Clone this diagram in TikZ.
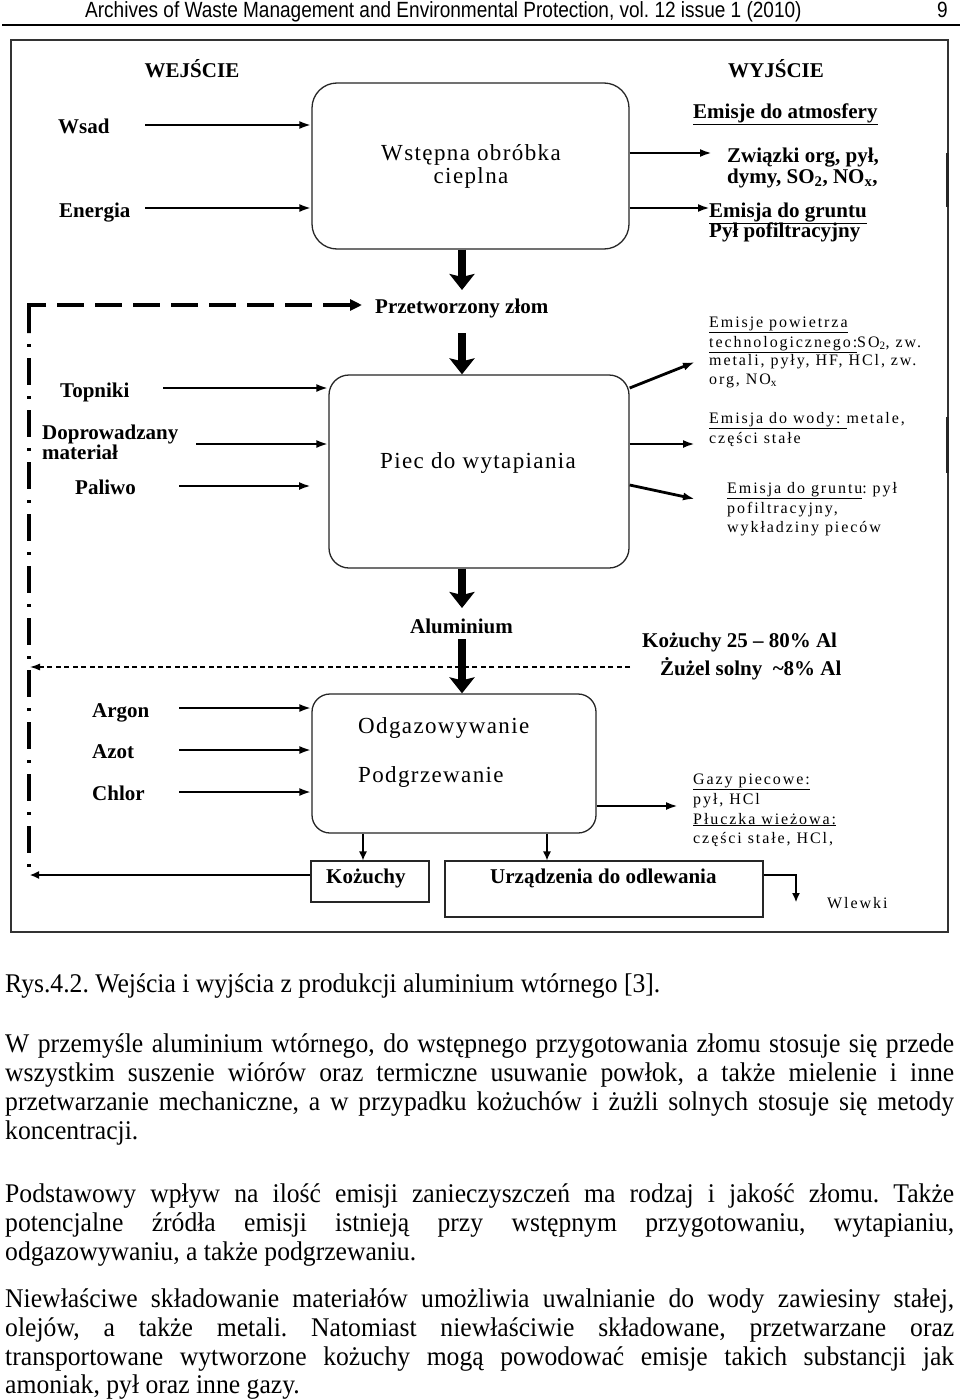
\documentclass[tikz,border=0pt]{standalone}
\usepackage{fontspec}
\setmainfont{Liberation Serif}
\newfontfamily\hdrf{Liberation Sans}[FakeStretch=0.865]
\newfontfamily\bodyf{Liberation Serif}[FakeStretch=0.95]
\newfontfamily\lspf{Liberation Serif}[LetterSpace=12]
\newfontfamily\boxf{Liberation Serif}[LetterSpace=6]
\usetikzlibrary{arrows.meta}
\newcommand\jline[1]{\makebox[949pt][s]{#1}}
\frenchspacing
\begin{document}
\begin{tikzpicture}[x=1pt,y=-1pt,
 lab/.style={inner sep=0pt, anchor=base west, font=\frenchspacing\bfseries\fontsize{21pt}{23pt}\selectfont},
 labc/.style={lab, anchor=base},
 sm/.style={inner sep=0pt, anchor=base west, font=\frenchspacing\lspf\fontsize{16pt}{18pt}\selectfont},
 boxtxt/.style={inner sep=0pt, anchor=base west, font=\boxf\fontsize{23pt}{25pt}\selectfont},
 boxtxtc/.style={boxtxt, anchor=base},
 body/.style={inner sep=0pt, anchor=base west, font=\bodyf\frenchspacing\fontsize{27pt}{29.6pt}\selectfont},
 hdr/.style={inner sep=0pt, anchor=base west, font=\hdrf\frenchspacing\fontsize{22pt}{24pt}\selectfont},
 rbox/.style={draw=black!85, line width=1.3pt, inner sep=0pt},
 sbox/.style={draw=black!85, line width=1.2pt, inner sep=0pt},
 inarr/.style={line width=2.8pt, -{Latex[length=12pt,width=8pt]}},
 bigarr/.style={line width=8pt, -{Stealth[length=16pt,width=25pt,inset=3pt]}},
 thinarr/.style={line width=1.2pt, -{Latex[length=9pt,width=8pt]}},
 thickdash/.style={line width=4pt, dash pattern=on 27pt off 11pt, dash phase=27pt, -{Triangle[length=12pt,width=11pt]}},
 dashdot/.style={line width=4pt, dash pattern=on 3pt off 11pt on 27pt off 11pt, dash phase=41pt},
 thindash/.style={line width=1.2pt, dash pattern=on 5pt off 3.5pt, -{Latex[length=10pt,width=7pt]}}
]
\fill[white] (0,0) rectangle (960,1400);
\useasboundingbox (0,0) rectangle (960,1400);

% header
\node[hdr] (hd) at (85,17.5) {Archives of Waste Management and Environmental Protection, vol. 12 issue 1 (2010)};
\node[hdr, anchor=base east] (pg) at (948,17.5) {9};
\draw[line width=1.7pt] (2,25) -- (960,25);

% frame
\draw[line width=1.3pt, black!80] (11,40) rectangle (948,932);
\draw[line width=3pt, black!85] (947,153) -- (947,207);
\draw[line width=3pt, black!85] (947,417) -- (947,473);

% boxes
\node[rbox, rounded corners=25pt, minimum width=317pt, minimum height=166pt] (b1) at (470.5,166) {};
\node[rbox, rounded corners=20pt, minimum width=300pt, minimum height=193pt] (b2) at (479,471.5) {};
\node[rbox, rounded corners=18pt, minimum width=284pt, minimum height=139pt] (b3) at (454,763.5) {};
\node[sbox, minimum width=118pt, minimum height=41pt] (kbox) at (370,881.5) {};
\node[sbox, minimum width=318pt, minimum height=56pt] (ubox) at (604,889) {};

% box texts
\node[boxtxtc] (b1t1) at (471,160) {Wstępna obróbka};
\node[boxtxtc] (b1t2) at (471,183) {cieplna};
\node[boxtxt] (b2t) at (380,468) {Piec do wytapiania};
\node[boxtxt] (b3t1) at (358,733) {Odgazowywanie};
\node[boxtxt] (b3t2) at (358,782) {Podgrzewanie};
\node[lab] (kt) at (326,883) {Kożuchy};
\node[lab] (ut) at (490,883) {Urządzenia do odlewania};

% bold labels
\node[labc] (wej) at (192,77) {WEJŚCIE};
\node[labc] (wyj) at (776,77) {WYJŚCIE};
\node[lab] (wsad) at (58,133) {Wsad};
\node[lab] (energia) at (59,217) {Energia};
\node[lab] (eatm) at (693,118) {\underline{Emisje do atmosfery}};
\node[lab] (zw1) at (727,162) {Związki org, pył,};
\node[lab] (zw2) at (727,183) {dymy, SO\textsubscript{2}, NO\textsubscript{x},};
\node[lab] (egr) at (709,217) {\underline{Emisja do gruntu}};
\node[lab] (pyl) at (709,237) {Pył pofiltracyjny};
\node[lab] (pz) at (375,313) {Przetworzony złom};
\node[lab] (topn) at (60,397) {Topniki};
\node[lab] (dop1) at (42,439) {Doprowadzany};
\node[lab] (dop2) at (42,459) {materiał};
\node[lab] (paliwo) at (75,494) {Paliwo};
\node[lab] (alu) at (410,633) {Aluminium};
\node[lab] (koz) at (642,647) {Kożuchy 25 – 80\% Al};
\node[lab] (zuz) at (660,675) {Żużel solny \ \textasciitilde 8\% Al};
\node[lab] (argon) at (92,717) {Argon};
\node[lab] (azot) at (92,758) {Azot};
\node[lab] (chlor) at (92,800) {Chlor};

% small letter-spaced labels
\node[sm] (s1) at (709,327) {\underline{Emisje powietrza}};
\node[sm] (s2) at (709,347) {\underline{technologicznego:}SO\textsubscript{2}, zw.};
\node[sm] (s3) at (709,365) {metali, pyły, HF, HCl, zw.};
\node[sm] (s4) at (709,384) {org, NO\textsubscript{x}};
\node[sm] (s5) at (709,423) {\underline{Emisja do wody: }metale,};
\node[sm] (s6) at (709,443) {części stałe};
\node[sm] (s7) at (727,493) {\underline{Emisja do gruntu}: pył};
\node[sm] (s8) at (727,513) {pofiltracyjny,};
\node[sm] (s9) at (727,532) {wykładziny pieców};
\node[sm] (g1t) at (693,784) {\underline{Gazy piecowe:}};
\node[sm] (g2t) at (693,804) {pył, HCl};
\node[sm] (g3t) at (693,824) {\underline{Płuczka wieżowa:}};
\node[sm] (g4t) at (693,843) {części stałe, HCl,};
\node[sm] (wlewki) at (827,908) {Wlewki};

% coordinates
\coordinate (ws) at (145,125);
\coordinate (en) at (145,208);
\coordinate (o1) at (712,153);
\coordinate (o2) at (710,208);
\coordinate (t1) at (462,290);
\coordinate (t2s) at (462,333);
\coordinate (t3) at (462,608);
\coordinate (t4s) at (462,639);
\coordinate (tp) at (163,388);
\coordinate (dp) at (196,444);
\coordinate (pa) at (179,486);
\coordinate (pae) at (311,486);
\coordinate (p1a) at (0,388);
\coordinate (p1) at (695,362);
\coordinate (p2) at (695,444);
\coordinate (p3a) at (0,485);
\coordinate (p3) at (695,499);
\coordinate (ar) at (179,708);
\coordinate (az) at (179,750);
\coordinate (ch) at (179,792);
\coordinate (g1) at (678,806);
\coordinate (k1) at (363,0);
\coordinate (u1) at (547,0);
\coordinate (kl) at (30,875);
\coordinate (uc) at (796,875);
\coordinate (wl) at (796,902);
\coordinate (dl1) at (630,667);
\coordinate (dl2) at (30,667);
\coordinate (dc) at (46,305);
\coordinate (dt) at (362,305);
\coordinate (c0) at (29,305);
\coordinate (c1) at (29,333);
\coordinate (c2) at (29,870);

% input/output arrows
\draw[inarr] (ws) -- (ws -| b1.west);
\draw[inarr] (en) -- (en -| b1.west);
\draw[inarr] (o1 -| b1.east) -- (o1);
\draw[inarr] (o2 -| b1.east) -- (o2);
\draw[inarr] (tp) -- (tp -| b2.west);
\draw[inarr] (dp) -- (dp -| b2.west);
\draw[inarr] (pa) -- (pae);
\draw[inarr] (b2.east |- p1a) -- (p1);
\draw[inarr] (p2 -| b2.east) -- (p2);
\draw[inarr] (b2.east |- p3a) -- (p3);
\draw[inarr] (ar) -- (ar -| b3.west);
\draw[inarr] (az) -- (az -| b3.west);
\draw[inarr] (ch) -- (ch -| b3.west);
\draw[inarr] (g1 -| b3.east) -- (g1);

% main flow
\draw[bigarr] (t1 |- b1.south) -- (t1);
\draw[bigarr] (t2s) -- (t2s |- b2.north);
\draw[bigarr] (t3 |- b2.south) -- (t3);
\draw[bigarr] (t4s) -- (t4s |- b3.north);

% thin connectors
\draw[thinarr] (k1 |- b3.south) -- (k1 |- kbox.north);
\draw[thinarr] (u1 |- b3.south) -- (u1 |- ubox.north);
\draw[thinarr] (kl -| kbox.west) -- (kl);
\draw[thinarr] (uc -| ubox.east) -- (uc) -- (wl);
\draw[thindash] (dl1) -- (dl2);

% recycle loop
\draw[line width=4pt] (dc) -- (c0) -- (c1);
\draw[dashdot] (c1) -- (c2);
\draw[thickdash] (dc) -- (dt);

% caption and body
\node[body] (cap) at (5,992) {Rys.4.2. Wejścia i wyjścia z produkcji aluminium wtórnego [3].};
\node[body] (l1) at (5,1052) {\jline{W przemyśle aluminium wtórnego, do wstępnego przygotowania złomu stosuje się przede}};
\node[body] (l2) at (5,1081) {\jline{wszystkim suszenie wiórów oraz termiczne usuwanie powłok, a także mielenie i inne}};
\node[body] (l3) at (5,1110) {\jline{przetwarzanie mechaniczne, a w przypadku kożuchów i żużli solnych stosuje się metody}};
\node[body] (l4) at (5,1139) {koncentracji.};
\node[body] (m1) at (5,1202) {\jline{Podstawowy wpływ na ilość emisji zanieczyszczeń ma rodzaj i jakość złomu. Także}};
\node[body] (m2) at (5,1231) {\jline{potencjalne źródła emisji istnieją przy wstępnym przygotowaniu, wytapianiu,}};
\node[body] (m3) at (5,1260) {odgazowywaniu, a także podgrzewaniu.};
\node[body] (n1) at (5,1307) {\jline{Niewłaściwe składowanie materiałów umożliwia uwalnianie do wody zawiesiny stałej,}};
\node[body] (n2) at (5,1336) {\jline{olejów, a także metali. Natomiast niewłaściwie składowane, przetwarzane oraz}};
\node[body] (n3) at (5,1365) {\jline{transportowane wytworzone kożuchy mogą powodować emisje takich substancji jak}};
\node[body] (n4) at (5,1393) {amoniak, pył oraz inne gazy.};
\end{tikzpicture}
\end{document}
